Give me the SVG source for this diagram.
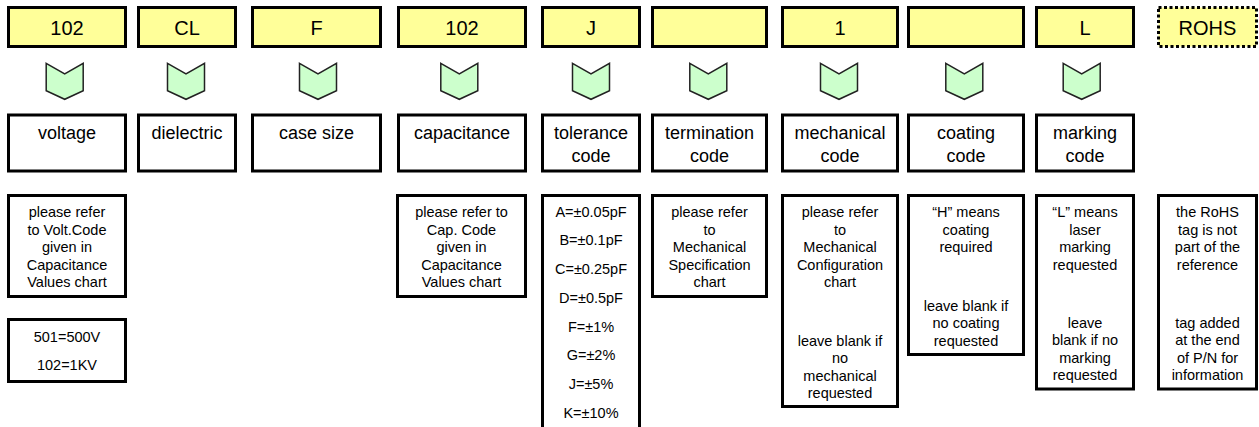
<svg xmlns="http://www.w3.org/2000/svg" width="1259" height="427" viewBox="0 0 1259 427">
<style>
text{font-family:"Liberation Sans",Arial,Helvetica,sans-serif;fill:#000;text-anchor:middle}
.code rect{fill:#ffff99;stroke:#000;stroke-width:3}
.code text{font-size:20px}
.rohs rect{fill:#ffff99;stroke:#000;stroke-width:3;stroke-dasharray:3 2.5}
.desc rect,.info rect{fill:#fff;stroke:#000;stroke-width:3}
.desc text{font-size:18px}
.info text{font-size:14.5px}
.chev{fill:#ccffcc;stroke:#222;stroke-width:1.5;stroke-linejoin:miter}
</style>
<defs>
<polygon id="chevron" class="chev" points="-18.5,0 0,10.5 18.5,0 18.5,27.5 0,36 -18.5,27.5"/>
</defs>

<!-- top code boxes -->
<g id="code-102-volt" class="code"><rect x="8.5" y="7.5" width="117" height="39"/><text x="67" y="35">102</text></g>
<g id="code-CL" class="code"><rect x="138.5" y="7.5" width="97" height="39"/><text x="187" y="35">CL</text></g>
<g id="code-F" class="code"><rect x="252.5" y="7.5" width="128" height="39"/><text x="316.5" y="35">F</text></g>
<g id="code-102-cap" class="code"><rect x="398.5" y="7.5" width="127" height="39"/><text x="462" y="35">102</text></g>
<g id="code-J" class="code"><rect x="542.5" y="7.5" width="97" height="39"/><text x="591" y="35">J</text></g>
<g id="code-term" class="code"><rect x="652.5" y="7.5" width="114" height="39"/></g>
<g id="code-1" class="code"><rect x="782.5" y="7.5" width="115" height="39"/><text x="840" y="35">1</text></g>
<g id="code-coat" class="code"><rect x="908.5" y="7.5" width="115" height="39"/></g>
<g id="code-L" class="code"><rect x="1036.5" y="7.5" width="97" height="39"/><text x="1085" y="35">L</text></g>
<g id="code-ROHS" class="rohs"><rect x="1158.5" y="7.5" width="98" height="39"/><text x="1207.5" y="35" style="font-size:20px">ROHS</text></g>

<!-- connectors (chevrons) -->
<g id="connectors">
<use href="#chevron" x="64.7" y="63.3"/>
<use href="#chevron" x="186" y="63.3"/>
<use href="#chevron" x="318" y="63.3"/>
<use href="#chevron" x="459.3" y="63.3"/>
<use href="#chevron" x="591" y="63.3"/>
<use href="#chevron" x="708.3" y="63.3"/>
<use href="#chevron" x="839" y="63.3"/>
<use href="#chevron" x="964.3" y="63.3"/>
<use href="#chevron" x="1081.7" y="63.3"/>
</g>

<!-- descriptor boxes -->
<g id="desc-voltage" class="desc"><rect x="8.5" y="115" width="117" height="56"/><text x="67" y="138.5">voltage</text></g>
<g id="desc-dielectric" class="desc"><rect x="138.5" y="115" width="97" height="56"/><text x="187" y="138.5">dielectric</text></g>
<g id="desc-case" class="desc"><rect x="252.5" y="115" width="128" height="56"/><text x="316.5" y="138.5">case size</text></g>
<g id="desc-capacitance" class="desc"><rect x="398.5" y="115" width="127" height="56"/><text x="462" y="138.5">capacitance</text></g>
<g id="desc-tolerance" class="desc"><rect x="542.5" y="115" width="97" height="56"/><text x="591" y="138.5">tolerance</text><text x="591" y="161.5">code</text></g>
<g id="desc-termination" class="desc"><rect x="652.5" y="115" width="114" height="56"/><text x="709.5" y="138.5">termination</text><text x="709.5" y="161.5">code</text></g>
<g id="desc-mechanical" class="desc"><rect x="782.5" y="115" width="115" height="56"/><text x="840" y="138.5">mechanical</text><text x="840" y="161.5">code</text></g>
<g id="desc-coating" class="desc"><rect x="908.5" y="115" width="115" height="56"/><text x="966" y="138.5">coating</text><text x="966" y="161.5">code</text></g>
<g id="desc-marking" class="desc"><rect x="1036.5" y="115" width="97" height="56"/><text x="1085" y="138.5">marking</text><text x="1085" y="161.5">code</text></g>

<!-- info boxes -->
<g id="info-voltage" class="info"><rect x="8.5" y="195.5" width="117" height="101"/>
<text x="67" y="217.3">please refer</text><text x="67" y="234.7">to Volt.Code</text><text x="67" y="252.1">given in</text><text x="67" y="269.5">Capacitance</text><text x="67" y="286.9">Values chart</text></g>
<g id="info-voltcodes" class="info"><rect x="8.5" y="319.5" width="117" height="62"/>
<text x="67" y="341.8">501=500V</text><text x="67" y="370">102=1KV</text></g>
<g id="info-capacitance" class="info"><rect x="397.5" y="195.5" width="128" height="101"/>
<text x="461.5" y="217.3">please refer to</text><text x="461.5" y="234.7">Cap. Code</text><text x="461.5" y="252.1">given in</text><text x="461.5" y="269.5">Capacitance</text><text x="461.5" y="286.9">Values chart</text></g>
<g id="info-tolerance" class="info"><rect x="542.5" y="195.5" width="97" height="245"/>
<text x="591" y="216.7">A=±0.05pF</text><text x="591" y="245.4">B=±0.1pF</text><text x="591" y="274.1">C=±0.25pF</text><text x="591" y="302.8">D=±0.5pF</text><text x="591" y="331.5">F=±1%</text><text x="591" y="360.2">G=±2%</text><text x="591" y="388.9">J=±5%</text><text x="591" y="417.6">K=±10%</text></g>
<g id="info-termination" class="info"><rect x="652.5" y="195.5" width="114" height="101"/>
<text x="709.5" y="217.3">please refer</text><text x="709.5" y="234.7">to</text><text x="709.5" y="252.1">Mechanical</text><text x="709.5" y="269.5">Specification</text><text x="709.5" y="286.9">chart</text></g>
<g id="info-mechanical" class="info"><rect x="782.5" y="195.5" width="115" height="211"/>
<text x="840" y="217.3">please refer</text><text x="840" y="234.7">to</text><text x="840" y="252.1">Mechanical</text><text x="840" y="269.5">Configuration</text><text x="840" y="286.9">chart</text>
<text x="840" y="345.7">leave blank if</text><text x="840" y="363.1">no</text><text x="840" y="380.5">mechanical</text><text x="840" y="397.9">requested</text></g>
<g id="info-coating" class="info"><rect x="908.5" y="195.5" width="115" height="159"/>
<text x="966" y="217.3">“H” means</text><text x="966" y="234.7">coating</text><text x="966" y="252.1">required</text>
<text x="966" y="311">leave blank if</text><text x="966" y="328.4">no coating</text><text x="966" y="345.8">requested</text></g>
<g id="info-marking" class="info"><rect x="1036.5" y="195.5" width="97" height="193.5"/>
<text x="1085" y="217.3">“L” means</text><text x="1085" y="234.7">laser</text><text x="1085" y="252.1">marking</text><text x="1085" y="269.5">requested</text>
<text x="1085" y="327.7">leave</text><text x="1085" y="345.1">blank if no</text><text x="1085" y="362.5">marking</text><text x="1085" y="379.9">requested</text></g>
<g id="info-rohs" class="info"><rect x="1158.5" y="195.5" width="98" height="193.5"/>
<text x="1207.5" y="217.3">the RoHS</text><text x="1207.5" y="234.7">tag is not</text><text x="1207.5" y="252.1">part of the</text><text x="1207.5" y="269.5">reference</text>
<text x="1207.5" y="327.7">tag added</text><text x="1207.5" y="345.1">at the end</text><text x="1207.5" y="362.5">of P/N for</text><text x="1207.5" y="379.9">information</text></g>
</svg>
